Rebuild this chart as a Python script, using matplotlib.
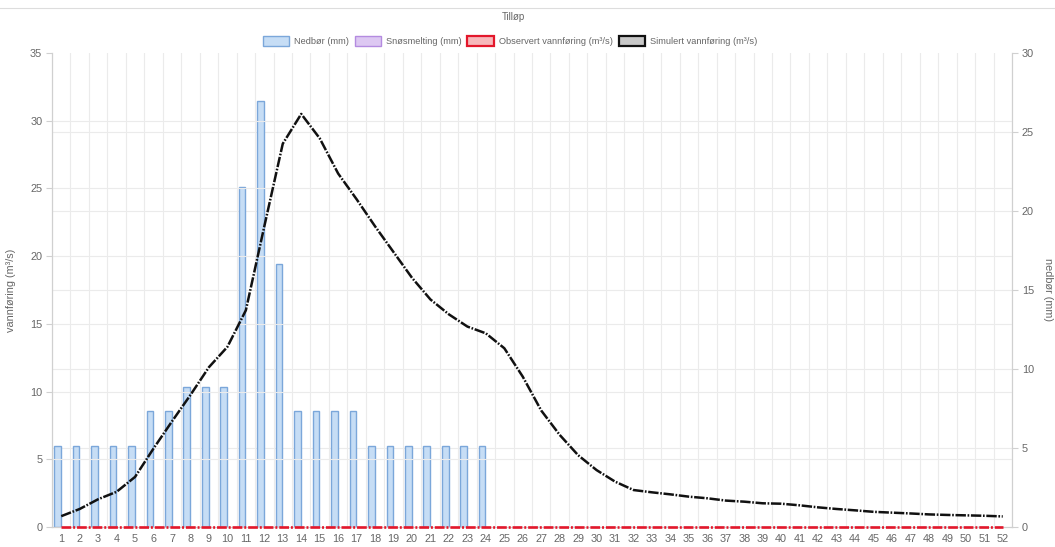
import matplotlib
matplotlib.use("Agg")
import matplotlib.pyplot as plt
from matplotlib.patches import Patch
from matplotlib.lines import Line2D
import numpy as np

plt.rcParams['font.family'] = ['Liberation Sans', 'DejaVu Sans']
plt.rcParams['lines.scale_dashes'] = False

weeks = list(range(1, 53))
# Nedbør (mm) – right axis
nedbor = [5.13, 5.13, 5.13, 5.13, 5.13, 7.34, 7.34, 8.88, 8.88, 8.88,
          21.5, 26.96, 16.65, 7.34, 7.34, 7.34, 7.34, 5.13, 5.13, 5.13,
          5.13, 5.13, 5.13, 5.13] + [0.0] * 28
# Snøsmelting (mm) – right axis
snosmelting = [0.0] * 52
# Observert vannføring (m³/s) – left axis
observert = [0.0] * 52
# Simulert vannføring (m³/s) – left axis
simulert = [0.80, 1.33, 2.05, 2.6, 3.7, 5.8, 7.8, 9.75, 11.8, 13.3,
            16.0, 22.2, 28.3, 30.5, 28.7, 26.1, 24.2, 22.2, 20.3, 18.4,
            16.8, 15.7, 14.8, 14.3, 13.2, 11.1, 8.6, 6.8, 5.3, 4.2,
            3.35, 2.73, 2.56, 2.41, 2.24, 2.12, 1.95, 1.87, 1.75, 1.72,
            1.6, 1.45, 1.33, 1.23, 1.12, 1.06, 1.0, 0.93, 0.89, 0.86,
            0.83, 0.78]

W, H = 1055, 547
fig = plt.figure(figsize=(W / 100, H / 100), dpi=100)
L, R, T, B = 52, 1012, 53, 527
ax = fig.add_axes([L / W, 1 - B / H, (R - L) / W, (B - T) / H])
ax2 = ax.twinx()

tick_col = '#666666'
grid_col = '#ebebeb'
axis_col = '#d0d0d0'
fs = 7.8

x = np.array(weeks, dtype=float)
ax.set_xlim(0.5, 52.5)
ax.set_ylim(0, 35)
ax2.set_ylim(0, 30)

# grids
for xv in np.arange(0.5, 53.0, 1.0):
    ax.axvline(xv, color=grid_col, lw=0.8, zorder=0)
for yv in range(5, 35, 5):
    ax.axhline(yv, color=grid_col, lw=0.8, zorder=0)
for yv in range(5, 30, 5):
    ax2.axhline(yv, color=grid_col, lw=0.8, zorder=0)

# bars (grouped: Nedbør left slot, Snøsmelting right slot)
slot = 0.8 / 2
bw = slot * 0.9
ax2.bar(x - slot / 2, nedbor, width=bw, color='#c6ddf5', edgecolor='#7ba7da',
        linewidth=1.0, zorder=2)
ax2.bar(x + slot / 2, snosmelting, width=bw, color='#ddc8f2', edgecolor='#b48be0',
        linewidth=0, zorder=2)

# lines on top
ax.set_zorder(ax2.get_zorder() + 1)
ax.patch.set_visible(False)
l1, = ax.plot(x, observert, color='#e3172b', lw=1.9, zorder=3, clip_on=False)
l1.set_dashes([7, 1.4, 1.4, 1.4])
l2, = ax.plot(x, simulert, color='#111111', lw=1.8, zorder=4)
l2.set_dashes([7.5, 1.2, 1.2, 1.2])

# ticks
ax.set_xticks(weeks)
ax.set_xticklabels([str(w) for w in weeks])
ax.set_yticks(range(0, 36, 5))
ax2.set_yticks(range(0, 31, 5))
for a in (ax, ax2):
    a.tick_params(axis='both', colors=axis_col, labelcolor=tick_col,
                  labelsize=fs, length=4, width=0.8, pad=3)
ax.tick_params(axis='x', length=0, pad=5)
ax2.tick_params(axis='x', length=0)

for a in (ax, ax2):
    a.spines['top'].set_visible(False)
    for s in ('left', 'right', 'bottom'):
        a.spines[s].set_color(axis_col)
        a.spines[s].set_linewidth(0.8)

ax.set_ylabel('vannføring (m³/s)', fontsize=fs, color=tick_col, labelpad=10)
ax2.set_ylabel('nedbør (mm)', fontsize=fs, color=tick_col, rotation=-90,
               labelpad=14)

# title
fig.text(513 / W, 1 - 17 / H, 'Tilløp', ha='center', va='center',
         fontsize=7.0, color=tick_col)
fig.add_artist(Line2D([0, 1], [1 - 8 / H, 1 - 8 / H], color='#dddddd', lw=0.8,
                      transform=fig.transFigure))

handles = [
    Patch(facecolor='#c6ddf5', edgecolor='#7ba7da', linewidth=1.0, label='Nedbør (mm)'),
    Patch(facecolor='#ddc8f2', edgecolor='#b48be0', linewidth=1.0, label='Snøsmelting (mm)'),
    Patch(facecolor='#f7b8bb', edgecolor='#e3172b', linewidth=1.6, label='Observert vannføring (m³/s)'),
    Patch(facecolor='#c8c8c8', edgecolor='#111111', linewidth=1.6, label='Simulert vannføring (m³/s)'),
]
leg = fig.legend(handles=handles, loc='center', bbox_to_anchor=(510 / W, 1 - 41 / H),
                 ncol=4, frameon=False, fontsize=6.7, handlelength=2.8,
                 handleheight=1.2, handletextpad=0.6, columnspacing=0.6,
                 borderaxespad=0, borderpad=0)
for t in leg.get_texts():
    t.set_color(tick_col)

fig.savefig('out.png', dpi=100)
